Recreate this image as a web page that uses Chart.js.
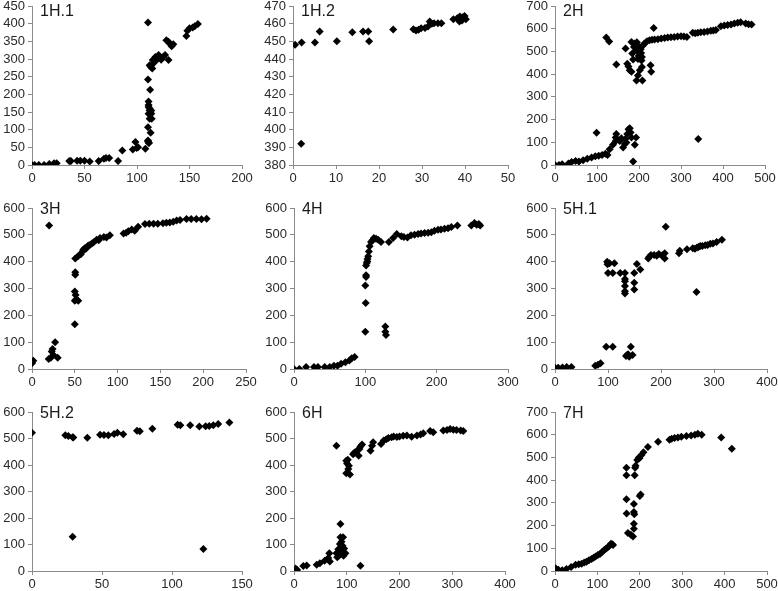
<!DOCTYPE html>
<html>
<head>
<meta charset="utf-8">
<script src="https://cdn.jsdelivr.net/npm/chart.js@4.4.1/dist/chart.umd.min.js"></script>
<style>
  body { margin: 0; background: #fff; }
  #wrap { position: relative; width: 778px; height: 591px; overflow: hidden; }
  #wrap canvas { position: absolute; }
</style>
</head>
<body>
<div id="wrap"></div>
<script>
// panel titles
const titles = ['1H.1', '1H.2', '2H', '3H', '4H', '5H.1', '5H.2', '6H', '7H'];

// 1H.1
const h11X = [0, 2.5, 6.5, 11.5, 16.5, 21, 23.5, 35.5, 37, 43, 46, 50, 55, 63.5, 68.5, 70.5, 73.5, 82, 86, 96, 98.5, 99.7, 101, 108, 110.5, 111, 110.5, 110.5, 112.5, 111, 111, 111, 112, 113.5, 111, 113.5, 112, 114, 110.5, 113, 110.5, 111.5, 112, 113, 112, 113, 114.5, 115, 115.5, 117.5, 118.7, 120.6, 123, 125, 126.7, 128, 130, 131, 134.6, 133, 130, 147, 148, 150, 153, 155, 158];
const h11Y = [0, 0, 0, 0, 3, 5, 5, 11, 11, 12, 12, 12, 10, 11, 18, 20, 20, 11, 41, 44, 65, 48, 50, 46, 69, 63, 403, 242, 213, 180, 170, 164, 154, 154, 145, 145, 131, 131, 107, 91, 67, 62, 160, 150, 282, 278, 273, 297, 287, 306, 297, 311, 298, 306, 311, 353, 349, 344, 342, 336, 297, 365, 380, 387, 389, 393, 399];

// 1H.2
const h12X = [0.5, 2, 1.9, 5.1, 6.2, 10.2, 13.8, 16.3, 17.5, 17.7, 23.3, 28, 28.6, 29.2, 29.8, 30.7, 31.4, 31.8, 32.3, 32.8, 33.7, 34.5, 37.3, 38.2, 38.8, 39.4, 39.9, 40.2, 39.3, 38.7];
const h12Y = [448, 449.4, 392, 449.4, 455.6, 450, 455.2, 455.6, 455.6, 450, 456.7, 456.9, 456.1, 456.5, 457.4, 457.6, 458.4, 461.2, 459.9, 460.3, 460.3, 460.3, 462.5, 463.1, 464, 463.6, 464.4, 462.5, 461.8, 461.2];

// 2H
const h2X = [0, 9.5, 17, 32, 39.5, 49, 57, 67, 77, 87, 96, 104, 112, 120, 125, 130, 138, 144.5, 146, 144.5, 99, 154, 158, 162, 166, 167.5, 172, 175, 178, 180, 182, 170, 190, 193, 186, 341,
  122, 129, 146, 168, 172, 175, 178, 182, 194, 208, 197.5, 202, 207, 227.5, 229, 184, 190, 182, 193.5, 201, 205, 207, 197.5, 186, 210, 188, 195, 200, 204, 206, 199, 235,
  213, 219, 225, 231, 237, 245, 253, 261, 268.5, 276, 284, 292, 300, 307, 314, 328, 334, 340, 347, 355, 363, 371, 377, 383, 395, 403, 411, 419, 427, 435, 442, 454, 461, 468];
const h2Y = [0, 0, 3, 7, 13, 18, 15, 21, 27, 33, 38, 41, 44, 50, 44, 69, 89, 106, 136, 121, 142, 106, 118, 77, 92, 114, 136, 157, 162, 143, 121, 99, 89, 121, 15, 114,
  561, 544, 442, 513, 446, 434, 417, 410, 372, 372, 394, 417, 431, 439, 410, 491, 535, 542, 505, 520, 493, 475, 467, 464, 527, 520, 540, 500, 510, 460, 480, 603,
  535, 545, 549, 551, 552, 554, 557, 559, 561, 562, 564, 566, 567, 566, 564, 582, 580, 582, 584, 586, 588, 591, 592, 594, 611, 614, 616, 619, 623, 626, 628, 623, 620, 619];

// 3H
const h3X = [0, 1.5, 0, 20, 19.5, 22, 23, 24, 27, 25, 30, 50, 50, 51, 50, 51.5, 54, 50.5, 50.5, 50.5, 54, 57, 59, 60, 62, 63, 65, 66, 68, 70, 72, 75.5, 78, 79.5, 84, 87, 91, 107, 110, 112.5, 116.5, 120, 124, 132, 137, 142, 147, 153, 157, 161, 165, 169, 173, 180.5, 186, 192, 198, 204];
const h3Y = [27, 31, 21, 535, 37, 42, 65, 75, 100, 52, 42, 167, 254, 276, 289, 259, 254, 361, 351, 412, 421, 428, 438, 445, 451, 448, 457, 460, 463, 468, 472, 482, 480, 488, 492, 490, 498, 505, 508, 513, 520, 515, 530, 540, 541, 541, 541, 543, 545, 546, 549, 553, 555, 559, 559, 559, 558, 560];

// 4H
const h4X = [0, 7.5, 17, 28, 33.6, 43, 50, 56, 61, 66, 72, 77.6, 81, 85, 100, 100.5, 100, 101, 101, 101, 102, 102.8, 103, 104, 105, 106, 108, 110, 112, 115, 118, 122, 128, 128, 129, 133, 139, 144, 150.5, 154, 159, 164, 169, 174, 178, 183, 188, 192.5, 197, 202, 206, 211, 216, 220.6, 229, 248.6, 253, 256, 259, 261];
const h4Y = [0, 0, 7, 7, 7, 7, 7, 12, 12, 20, 25, 32, 40, 45, 139, 246, 311, 349, 343, 386, 395, 401, 410, 420, 438, 457, 473, 480, 488, 485, 482, 473, 139, 158, 127, 473, 488, 503, 495, 492, 490, 498, 500, 503, 505, 507, 508, 510, 515, 519, 520, 523, 525, 529, 535, 535, 544, 538, 540, 535];

// 5H.1
const h51X = [0, 6, 14, 22, 31, 76, 81, 86, 96.6, 109, 98.4, 99, 103, 112, 100, 109, 123, 132, 132, 132, 132, 132, 132, 149.5, 149.5, 149.5, 154.5, 161, 134, 136, 138, 140, 146.4, 143, 176, 178, 181, 187, 192, 196, 202.5, 203, 207, 207, 209, 234, 235.5, 249, 260, 264, 268, 271, 274, 278, 283.5, 288, 293, 298, 305, 315, 267];
const h51Y = [5, 5, 6, 7, 7, 12, 16, 21, 83, 83, 400, 390, 394, 394, 358, 358, 358, 358, 335, 327, 309, 290, 281, 358, 321, 296, 391, 371, 48, 52, 55, 46, 52, 83, 412, 418, 425, 425, 422, 429, 421, 425, 412, 431, 530, 431, 441, 446, 450, 448, 453, 455, 458, 458, 461, 462, 467, 468, 473, 482, 287];

// 5H.2
const h52X = [0, 23.8, 26, 29, 29.5, 39.5, 48.6, 51.4, 54.5, 58.6, 61, 65.2, 75, 77, 86, 104, 106, 113, 119.5, 124, 126.6, 129.5, 133, 141, 29, 122.4];
const h52Y = [522, 512, 509, 505, 504, 503, 514, 513, 512, 517, 522, 516, 529, 527, 537, 552, 550, 550, 545, 546, 547, 550, 555, 560, 129, 83];

// 6H
const h6X = [3, 6, 17.6, 24, 43, 49, 58, 65, 67, 68, 80.5, 82, 84, 86, 87, 88, 90, 92, 93, 88, 85, 91, 94, 95, 90, 89, 97.5, 126, 80.5, 99, 100.6, 102, 103, 104, 99, 106, 112, 114, 116, 119.5, 122.6, 124, 126, 129, 145, 148, 150, 165, 170, 175, 179, 185, 189, 195, 200, 207, 214, 223, 233, 240, 245, 258, 264, 283, 290, 296, 302, 308, 316, 321];
const h6Y = [9, 4, 19, 21, 24, 29, 39, 49, 67, 36, 67, 52, 82, 75, 102, 127, 110, 95, 127, 177, 58, 77, 58, 85, 65, 89, 67, 20, 473, 416, 406, 420, 385, 397, 369, 364, 441, 445, 448, 454, 435, 460, 470, 477, 454, 473, 486, 479, 492, 497, 502, 505, 508, 506, 508, 510, 511, 507, 511, 515, 520, 528, 524, 530, 532, 536, 533, 532, 530, 528];

// 7H
const h7X = [1.5, 8, 17, 27, 38, 48.6, 56, 63, 69, 74.5, 80, 86, 91, 95.6, 101, 106, 111, 116, 120, 124, 128, 132, 135, 137, 168.5, 168.5, 168.5, 169, 172, 179, 184, 186, 186, 186, 187, 186, 188, 189, 190, 194, 198, 199, 200, 202, 204, 208.6, 219, 243, 270, 275, 282, 290, 298, 310, 321, 330, 337, 346, 392, 417];
const h7Y = [12, 6, 3, 9, 18, 27, 30, 32, 37, 41, 47, 53, 58, 64, 70, 75, 84, 92, 98, 103, 110, 120, 118, 115, 455, 422, 316, 253, 167, 160, 152, 186, 208, 260, 250, 295, 422, 455, 463, 489, 500, 496, 330, 337, 511, 523, 546, 569, 578, 582, 585, 588, 591, 594, 597, 600, 604, 600, 588, 538];

// axis ranges per panel: [xMax, xStep, yMin, yMax, yStep]
const axisRanges = [
  [200, 50, 0, 450, 50],
  [50, 10, 380, 470, 10],
  [500, 100, 0, 700, 100],
  [250, 50, 0, 600, 100],
  [300, 100, 0, 600, 100],
  [400, 100, 0, 600, 100],
  [150, 50, 0, 600, 100],
  [400, 100, 0, 600, 100],
  [500, 100, 0, 700, 100]
];
const seriesX = [h11X, h12X, h2X, h3X, h4X, h51X, h52X, h6X, h7X];
const seriesY = [h11Y, h12Y, h2Y, h3Y, h4Y, h51Y, h52Y, h6Y, h7Y];

// plot areas on the page: left, top, right, bottom
const areas = [
  [32, 6, 242, 165], [293, 6, 508, 165], [555, 6, 765, 165],
  [32, 208, 246, 369], [294, 208, 508, 369], [555, 208, 767, 369],
  [32, 412, 242, 571], [294, 412, 505, 571], [555, 412, 767, 571]
];
const titleBase = [16, 16, 16, 214, 214, 214, 418, 418, 418];

const AXIS_W = 32, PAD_TOP = 6, PAD_RIGHT = 11, X_H = 26;
const FONT = '"Liberation Sans", Arial, sans-serif';
const AXIS_COLOR = '#8a8a8a';

const panelTitle = {
  id: 'panelTitle',
  afterDraw(chart, args, opts) {
    const c = chart.ctx;
    c.save();
    c.font = '16px ' + FONT;
    c.fillStyle = '#1a1a1a';
    c.textBaseline = 'alphabetic';
    c.fillText(opts.text, chart.chartArea.left + 8, opts.y);
    c.restore();
  }
};

const wrap = document.getElementById('wrap');

titles.forEach((title, i) => {
  const [L, T, R, B] = areas[i];
  const [xMax, xStep, yMin, yMax, yStep] = axisRanges[i];
  const canvas = document.createElement('canvas');
  const left = L - AXIS_W, top = T - PAD_TOP;
  canvas.width = R - L + AXIS_W + PAD_RIGHT;
  canvas.height = B - T + PAD_TOP + X_H;
  canvas.style.left = left + 'px';
  canvas.style.top = top + 'px';
  wrap.appendChild(canvas);

  const points = seriesX[i].map((x, k) => ({ x: x, y: seriesY[i][k] }));

  new Chart(canvas.getContext('2d'), {
    type: 'scatter',
    data: {
      datasets: [{
        data: points,
        pointStyle: 'rectRot',
        pointRadius: 4,
        backgroundColor: '#000',
        borderWidth: 0
      }]
    },
    options: {
      responsive: false,
      animation: false,
      events: [],
      layout: { padding: { top: PAD_TOP, right: PAD_RIGHT, left: 0, bottom: 0 } },
      plugins: {
        legend: { display: false },
        tooltip: { enabled: false },
        panelTitle: { text: title, y: titleBase[i] - top }
      },
      scales: {
        x: {
          type: 'linear',
          min: 0, max: xMax,
          ticks: { stepSize: xStep, autoSkip: false, color: '#2a2a2a', font: { size: 13, family: FONT }, padding: 2, maxRotation: 0 },
          grid: { drawOnChartArea: false, drawTicks: true, tickLength: 4, color: AXIS_COLOR },
          border: { display: true, color: AXIS_COLOR, width: 1 },
          afterFit(s) { s.height = X_H; s.paddingLeft = 0; s.paddingRight = 0; }
        },
        y: {
          type: 'linear',
          min: yMin, max: yMax,
          ticks: { stepSize: yStep, autoSkip: false, color: '#2a2a2a', font: { size: 13, family: FONT }, padding: 3 },
          grid: { drawOnChartArea: false, drawTicks: true, tickLength: 4, color: AXIS_COLOR },
          border: { display: true, color: AXIS_COLOR, width: 1 },
          afterFit(s) { s.width = AXIS_W; s.paddingTop = 0; s.paddingBottom = 0; }
        }
      }
    },
    plugins: [panelTitle]
  });
});
</script>
</body>
</html>
